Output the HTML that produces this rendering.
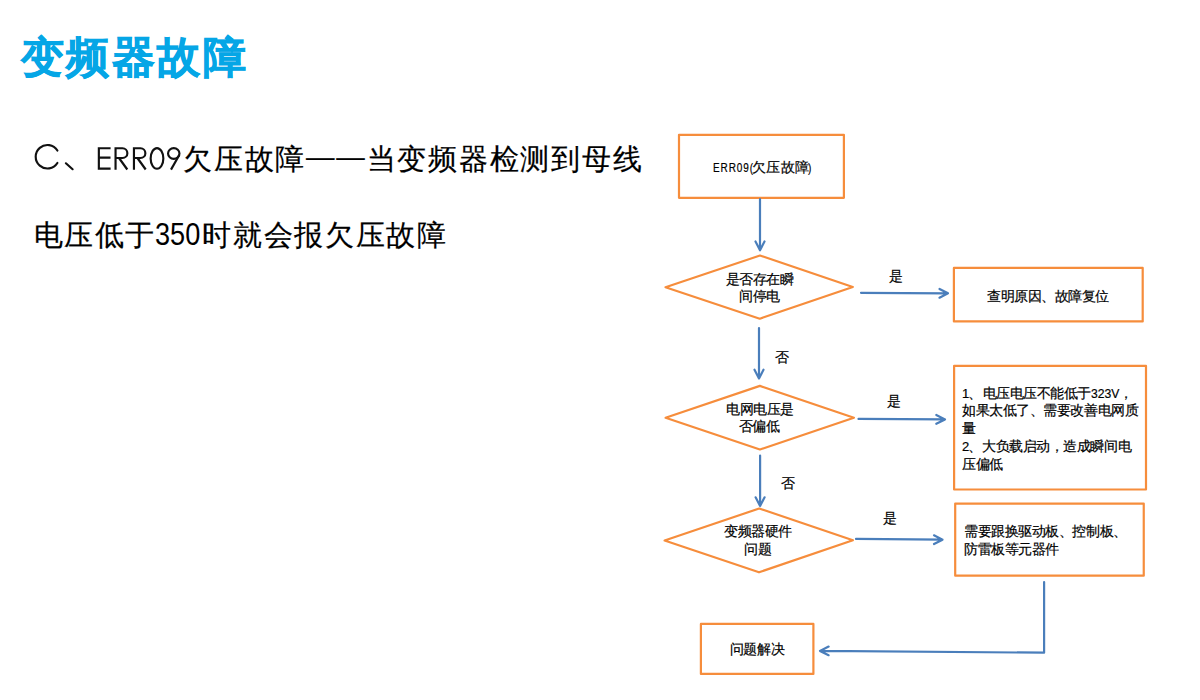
<!DOCTYPE html>
<html><head><meta charset="utf-8">
<style>
html,body{margin:0;padding:0;background:#fff;}
body{width:1200px;height:700px;position:relative;overflow:hidden;font-family:"Liberation Sans",sans-serif;color:#000;}
.t{position:absolute;white-space:nowrap;line-height:1;}
#title{left:21px;top:36px;font-size:43px;font-weight:bold;color:#05A6E6;-webkit-text-stroke:0.7px #05A6E6;letter-spacing:2.4px;}
.body{font-size:30px;color:#000;-webkit-text-stroke:0.2px #000;}
.fc{font-size:13.5px;color:#000;letter-spacing:-0.45px;-webkit-text-stroke:0.2px #000;}
.c{width:200px;margin-left:-100px;text-align:center;}
svg{position:absolute;left:0;top:0;}
</style></head><body>
<div id="title" class="t">变频器故障</div>
<svg width="1200" height="700" style="position:absolute;left:0;top:0"><g fill="none" stroke="#111" stroke-width="2.15" stroke-linecap="butt" stroke-linejoin="miter"><path d="M57.4 150.5 A11.75 11.75 0 1 0 57.4 163.0" stroke-linecap="round"/><path d="M65.9 163.3 L72.6 169.2" stroke-linecap="round"/>
<path d="M110.6 148.25 H98.85 V168.6 H110.6 M98.85 157.65 H110.5"/>
<path d="M115.55 169.7 V148.25 H122.5 A4.875 4.875 0 0 1 122.5 158 H115.55 M119 158 L127.3 169.5"/>
<path d="M133.95 169.7 V148.25 H140.5 A4.875 4.875 0 0 1 140.5 158 H133.95 M137.4 158 L145.7 169.5"/>
<ellipse cx="157" cy="158.45" rx="6.35" ry="10.3"/>
<ellipse cx="173.75" cy="153.5" rx="5.7" ry="5.35"/><path d="M179.3 155 L171 169.6"/>
</g></svg>
<div class="t body" id="l1f" style="left:183px;top:145px;font-size:28.5px;letter-spacing:1.75px;">欠压故障<span style="position:relative;top:-3.5px">——</span>当变频器检测到母线</div>
<div class="t body" id="l2a" style="left:34px;top:221px;font-size:28.5px;letter-spacing:1.4px;">电压低于</div>
<div class="t body" id="l2b" style="left:154.8px;top:219px;font-size:31px;-webkit-text-stroke:0;transform:scaleX(0.875);transform-origin:0 0;">350</div>
<div class="t body" id="l2c" style="left:202.3px;top:221px;font-size:28.5px;letter-spacing:1.65px;">时就会报欠压故障</div>

<svg width="1200" height="700" viewBox="0 0 1200 700">
 <g fill="none" stroke="#F68D3C" stroke-width="2.2" stroke-linejoin="round">
  <rect x="679" y="134.8" width="164.9" height="63"/>
  <polygon points="665.5,287.2 760,255.5 852.8,287 759.8,318.7"/>
  <rect x="953.9" y="267.9" width="188.8" height="53.5"/>
  <polygon points="665.6,417.75 759.9,385.9 853.9,417.75 759.9,449.5"/>
  <rect x="954.1" y="365.9" width="191.9" height="123.6"/>
  <polygon points="664.6,540.5 759.2,508.5 852.9,540.25 759,572.3"/>
  <rect x="955.2" y="503.6" width="188.55" height="72.1"/>
  <rect x="700.9" y="623.9" width="112.5" height="50"/>
 </g>
 <g fill="none" stroke="#4A7EBB" stroke-width="2.2" stroke-linecap="round" stroke-linejoin="round">
  <path d="M760 199.2 V250.3 M755.5 241.5 L760 250.3 L764.5 241.5"/>
  <path d="M861 292.8 L948 293.3 M939.5 288.9 L948 293.3 L939.5 297.7"/>
  <path d="M759 328 V378.5 M754.5 369.7 L759 378.5 L763.5 369.7"/>
  <path d="M858.5 418.9 L945 419.4 M936.3 415 L945 419.4 L936.3 423.8"/>
  <path d="M760.1 455.5 V506 M755.6 497.3 L760.1 506 L764.6 497.3"/>
  <path d="M856 538.9 L942.5 539.7 M934 535.3 L942.5 539.7 L934 544.1"/>
  <path d="M1044.1 582 V652.7 L820 650.9 M828.6 646.6 L820 650.9 L828.6 655.2"/>
 </g>
</svg>

<div class="t fc" style="left:713px;top:162px;font-size:12.5px;letter-spacing:1.1px;transform:scaleX(0.8);transform-origin:0 0;">ERR09(</div>
<div class="t fc" style="left:752px;top:161px;letter-spacing:0.4px;">欠压故障</div>
<div class="t fc" style="left:807.5px;top:162px;font-size:12.5px;transform:scaleX(0.8);transform-origin:0 0;">)</div>
<div class="t fc c" style="left:759.5px;top:273px;">是否存在瞬</div>
<div class="t fc c" style="left:759.5px;top:290px;">间停电</div>
<div class="t fc c" style="left:895.5px;top:270px;">是</div>
<div class="t fc" style="left:987px;top:290px;">查明原因、故障复位</div>
<div class="t fc c" style="left:782px;top:351px;">否</div>
<div class="t fc c" style="left:760px;top:403px;">电网电压是</div>
<div class="t fc c" style="left:759px;top:420px;">否偏低</div>
<div class="t fc c" style="left:893.5px;top:395px;">是</div>
<div class="t fc" style="left:962px;top:387px;font-size:13px;">1</div>
<div class="t fc" style="left:968px;top:387px;">、</div>
<div class="t fc" style="left:982.5px;top:387px;">电压电压不能低于</div>
<div class="t fc" style="left:1091px;top:387px;transform:scaleX(0.9);transform-origin:0 0;letter-spacing:0;">323V</div>
<div class="t fc" style="left:1119px;top:387px;">，</div>
<div class="t fc" style="left:962px;top:404px;">如果太低了、需要改善电网质</div>
<div class="t fc" style="left:962px;top:422px;">量</div>
<div class="t fc" style="left:962px;top:440px;font-size:13px;">2</div>
<div class="t fc" style="left:968px;top:440px;">、</div>
<div class="t fc" style="left:982px;top:440px;">大负载启动，造成瞬间电</div>
<div class="t fc" style="left:962px;top:458px;">压偏低</div>
<div class="t fc c" style="left:787.5px;top:477px;">否</div>
<div class="t fc c" style="left:758px;top:525px;">变频器硬件</div>
<div class="t fc c" style="left:758px;top:543px;">问题</div>
<div class="t fc c" style="left:889.8px;top:512px;">是</div>
<div class="t fc" style="left:964px;top:525px;">需要跟换驱动板、控制板、</div>
<div class="t fc" style="left:964px;top:543px;">防雷板等元器件</div>
<div class="t fc c" style="left:757px;top:643px;">问题解决</div>
</body></html>
